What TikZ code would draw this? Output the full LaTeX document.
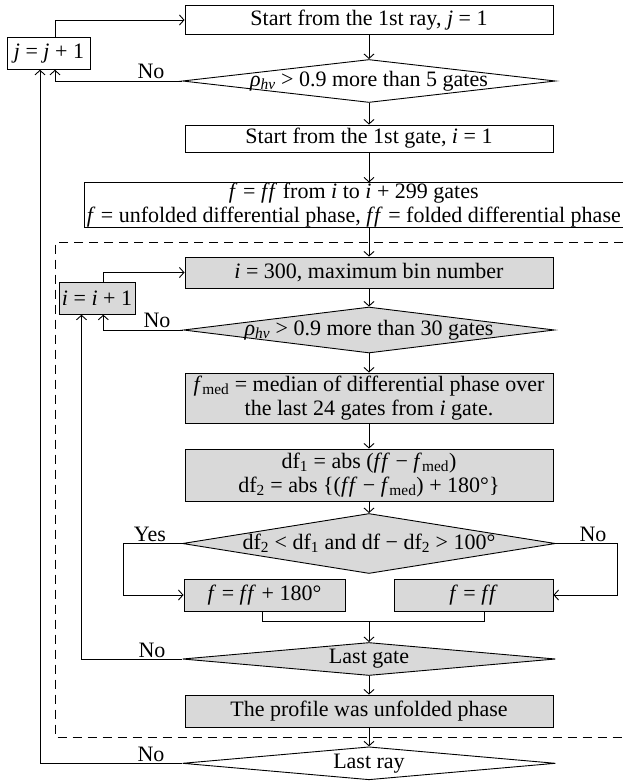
\documentclass[tikz,border=0pt]{standalone}
\usepackage{fontspec}
\setmainfont{Liberation Serif}
\usetikzlibrary{arrows.meta,shapes.geometric}
\definecolor{boxgray}{RGB}{217,217,217}
\newcommand{\myff}{\textit{f\kern1.6pt f}}
\newcommand{\myrho}{\textit{ρ}\textsubscript{\textit{hv}}}
\newcommand{\myfmed}{\textit{f}\textsubscript{med}}
\newcommand{\dtext}[1]{\makebox[0pt]{#1}}
\begin{document}
\begin{tikzpicture}[x=1pt,y=-1pt,
  font=\fontsize{22}{24}\selectfont,
  line width=0.9pt,
  box/.style={draw, rectangle, inner sep=2pt, align=center},
  gbox/.style={box, fill=boxgray},
  dia/.style={draw, shape=diamond, aspect=8, inner sep=0pt},
  gdia/.style={dia, fill=boxgray},
  arr/.style={-{Straight Barb[length=4.5pt,width=10pt]}},
  lab/.style={anchor=south, inner sep=1.5pt},
  dashbox/.style={dash pattern=on 9pt off 6pt}]
\useasboundingbox (0,0) rectangle (623,782);

% top part
\node[box, minimum width=368pt, minimum height=29pt] (ray) at (369,20) {Start from the 1st ray, \textit{j} = 1};
\node[box, minimum width=83.5pt, minimum height=32pt] (jinc) at (49,53.3) {\textit{j} = \textit{j} + 1};
\node[dia, minimum width=373pt, minimum height=43pt] (d1) at (369,81) {\dtext{\myrho{} > 0.9 more than 5 gates}};
\node[box, minimum width=368pt, minimum height=27pt] (gate) at (369,138.5) {Start from the 1st gate, \textit{i} = 1};
\node[minimum width=538.4pt, minimum height=44pt, align=center, inner sep=0pt] (fbox) at (353.8,205)
  {\textit{f} = \myff{} from \textit{i} to \textit{i} + 299 gates\\\textit{f} = unfolded differential phase, \myff{} = folded differential phase};
\draw (fbox.north east) -- (fbox.north west) -- (fbox.south west) -- (fbox.south east);

% dashed frame
\draw[dashbox] (623,242.5) -- (55,242.5) -- (55,737) -- (623,737);

% inner loop
\node[gbox, minimum width=368pt, minimum height=31pt] (i300) at (369,272.5) {\textit{i} = 300, maximum bin number};
\node[gbox, minimum width=76pt, minimum height=31.5pt] (iinc) at (97,298.5) {\textit{i} = \textit{i} + 1};
\node[gdia, minimum width=371pt, minimum height=46pt] (d2) at (369,330) {\dtext{\myrho{} > 0.9 more than 30 gates}};
\node[gbox, minimum width=368pt, minimum height=50pt] (fmed) at (369,398)
  {\myfmed{} = median of differential phase over\\the last 24 gates from \textit{i} gate.};
\node[gbox, minimum width=368pt, minimum height=52pt] (df) at (369,475)
  {df\textsubscript{1} = abs (\myff{} − \myfmed)\\df\textsubscript{2} = abs \{(\myff{} − \myfmed) + 180°\}};
\node[gdia, minimum width=373pt, minimum height=60pt] (d3) at (369,543.5) {\dtext{df\textsubscript{2} < df\textsubscript{1} and df − df\textsubscript{2} > 100°}};
\node[gbox, minimum width=161pt, minimum height=32pt] (lbox) at (264.5,595) {\textit{f} = \myff{} + 180°};
\node[gbox, minimum width=159pt, minimum height=32pt] (rbox) at (473.5,595) {\textit{f} = \myff};
\coordinate (m) at (369,621.7);
\node[gdia, minimum width=373pt, minimum height=33pt] (lgate) at (369,659) {\dtext{Last gate}};
\node[gbox, minimum width=368pt, minimum height=32pt] (prof) at (369,711) {The profile was unfolded phase};
\node[dia, minimum width=373pt, minimum height=33pt] (lray) at (369,763.3) {\dtext{Last ray}};

% main flow
\draw[arr] (ray.south) -- (d1.north);
\draw[arr] (d1.south) -- (gate.north);
\draw[arr] (gate.south) -- (gate.south |- fbox.north);
\draw[arr] (i300.north |- fbox.south) -- (i300.north);
\draw[arr] (i300.south) -- (d2.north);
\draw[arr] (d2.south) -- (fmed.north);
\draw[arr] (fmed.south) -- (df.north);
\draw[arr] (df.south) -- (d3.north);
\draw[arr] (d3.west) -- ++(-59,0) |- (lbox.west);
\draw[arr] (d3.east) -- ++(61.6,0) |- (rbox.east);
\draw ([xshift=-2.5pt]lbox.south) |- (m) -| ([xshift=11.2pt]rbox.south);
\draw[arr] (m) -- (lgate.north);
\draw[arr] (lgate.south) -- (prof.north);
\draw[arr] (prof.south) -- (lray.north);

% loops
\draw[arr] ([xshift=6pt]jinc.north) |- (ray.west);
\draw[arr] (d1.west) -| ([xshift=6pt]jinc.south);
\draw[arr] (lray.west) -| ([xshift=-9pt]jinc.south);
\draw[arr] ([xshift=6.3pt]iinc.north) |- (i300.west);
\draw[arr] (d2.west) -| ([xshift=6.3pt]iinc.south);
\draw[arr] (lgate.west) -| ([xshift=-15.5pt]iinc.south);

% labels
\node[lab] (no1) at (151,81) {No};
\node[lab] (no2) at (157,330) {No};
\node[lab] (yes3) at (150,543.5) {Yes};
\node[lab] (no3) at (593,543.5) {No};
\node[lab] (no4) at (152,659.3) {No};
\node[lab] (no5) at (151,763.3) {No};
\end{tikzpicture}
\end{document}
